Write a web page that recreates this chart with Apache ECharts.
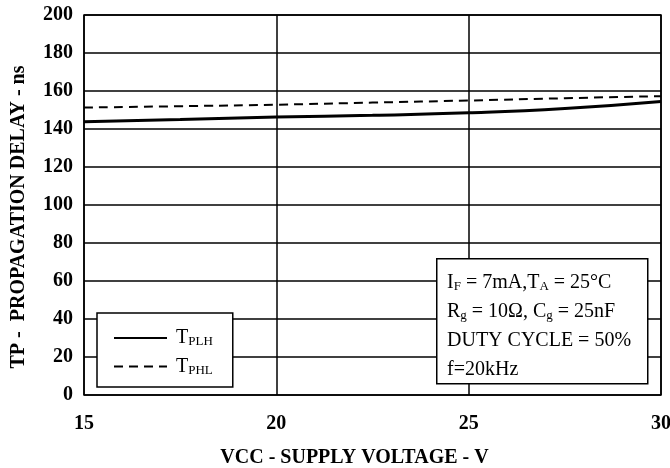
<!DOCTYPE html>
<html>
<head>
<meta charset="utf-8">
<script src="https://cdn.jsdelivr.net/npm/echarts@6/dist/echarts.min.js"></script>
<style>
  html, body { margin: 0; padding: 0; background: #fff; }
  #chart { width: 670px; height: 468px; }
</style>
</head>
<body>
<div id="chart"></div>
<script>
const voltage = [15, 17.5, 20, 22.5, 25, 27.5, 30]
const tplh = [143.8, 145.0, 146.3, 147.2, 148.5, 150.8, 154.5]
const tphl = [151.3, 152.0, 152.8, 153.9, 155.0, 156.2, 157.3]
const xTicks = [15, 20, 25, 30]
const seriesNames = ['TPLH', 'TPHL']
const notes = [
  '{n|I}{s|F}{n| = 7mA,T}{s|A}{n| = 25°C}',
  '{n|R}{s|g}{n| = 10Ω, C}{s|g}{n| = 25nF}',
  '{n|DUTY CYCLE = 50%}',
  '{n|f=20kHz}',
]

const serif = '"Liberation Serif", "Times New Roman", serif'
const richSub = {
  n: { fontFamily: serif, fontSize: 20, color: '#000' },
  s: { fontFamily: serif, fontSize: 13, color: '#000', verticalAlign: 'bottom', padding: [8, 0, 0, 0] },
}
const boldLabel = { fontFamily: serif, fontWeight: 'bold', fontSize: 20, color: '#000' }

const chart = echarts.init(document.getElementById('chart'))

function pairs(ys) {
  return voltage.map((vv, ii) => [vv, ys[ii]])
}

chart.setOption({
  animation: false,
  backgroundColor: '#fff',
  grid: {
    left: 84, right: 9, top: 15, bottom: 73,
    outerBoundsMode: 'none',
    show: true, borderColor: '#000', borderWidth: 1.5,
  },
  xAxis: {
    type: 'value',
    min: 15, max: 30, interval: 5,
    name: 'VCC - SUPPLY VOLTAGE - V',
    nameLocation: 'middle',
    nameGap: 53,
    nameTextStyle: { ...boldLabel, padding: [0, 36, 0, 0] },
    axisLine: { show: false },
    axisTick: { show: false },
    axisLabel: {
      ...boldLabel,
      margin: 19,
      formatter: (val) => xTicks.includes(val) ? String(val) : '',
    },
    splitLine: { show: true, lineStyle: { color: '#000', width: 1.5 } },
  },
  yAxis: {
    type: 'value',
    min: 0, max: 200, interval: 20,
    name: 'TP -  PROPAGATION DELAY - ns',
    nameLocation: 'middle',
    nameGap: 55,
    nameRotate: 90,
    nameTextStyle: { ...boldLabel, padding: [0, 24, 0, 0] },
    axisLine: { show: false },
    axisTick: { show: false },
    axisLabel: { ...boldLabel, margin: 11 },
    splitLine: { show: true, lineStyle: { color: '#000', width: 1.5 } },
  },
  legend: {
    orient: 'vertical',
    left: 97, top: 313,
    padding: [15, 20, 10, 16],
    itemGap: 8,
    itemWidth: 53,
    itemHeight: 16,
    borderColor: '#000',
    borderWidth: 1.5,
    backgroundColor: '#fff',
    itemStyle: { opacity: 0 },
    data: seriesNames,
    formatter: (name) => `{n|T}{s|${name.slice(1)}}`,
    textStyle: { rich: richSub, padding: [0, 0, 0, 4] },
  },
  graphic: [
    {
      type: 'rect',
      left: 436, top: 258,
      shape: { width: 211, height: 125 },
      style: { fill: '#fff', stroke: '#000', lineWidth: 1.5 },
      z: 100,
    },
    ...notes.map((txt, ii) => ({
      type: 'text',
      left: 447, top: 273 + ii * 29,
      style: { text: txt, rich: richSub },
      z: 101,
    })),
  ],
  series: [
    {
      name: seriesNames[0],
      type: 'line',
      data: pairs(tplh),
      smooth: true,
      symbol: 'none',
      lineStyle: { color: '#000', width: 3 },
      itemStyle: { color: '#000' },
    },
    {
      name: seriesNames[1],
      type: 'line',
      data: pairs(tphl),
      smooth: true,
      symbol: 'none',
      lineStyle: { color: '#000', width: 2, type: [9, 6] },
      itemStyle: { color: '#000' },
    },
  ],
})
</script>
</body>
</html>
